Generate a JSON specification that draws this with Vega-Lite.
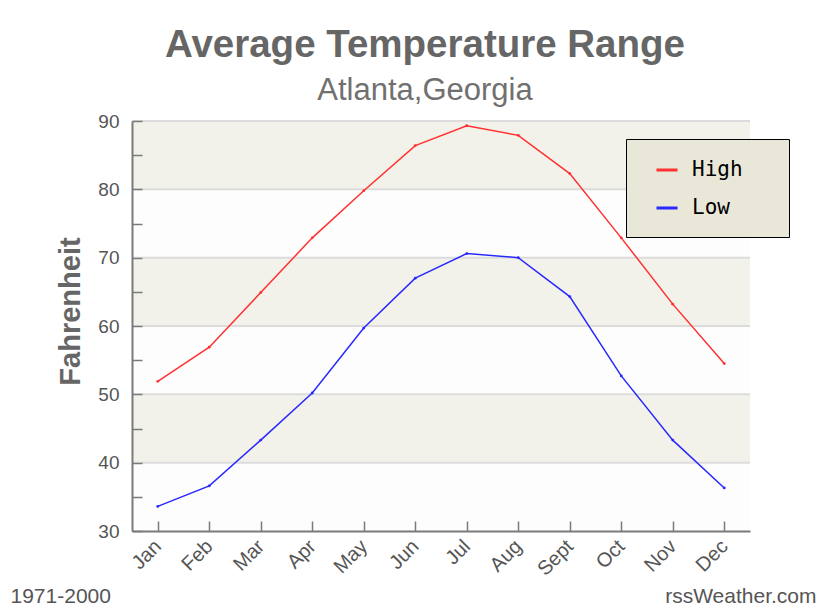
{
  "$schema": "https://vega.github.io/schema/vega-lite/v6.json",
  "autosize": "none",
  "width": 618,
  "height": 410,
  "padding": {"left": 132, "top": 121, "right": 80, "bottom": 79},
  "background": "white",
  "title": {
    "text": "Average Temperature Range",
    "subtitle": "Atlanta,Georgia",
    "anchor": "middle",
    "frame": "group",
    "dx": -16,
    "font": "Liberation Sans",
    "fontSize": 38.5,
    "fontWeight": "bold",
    "color": "#666666",
    "subtitleFont": "Liberation Sans",
    "subtitleFontSize": 31,
    "subtitleColor": "#707070",
    "subtitlePadding": 11,
    "offset": 5
  },
  "config": {
    "view": {"stroke": null, "fill": "#fdfdfd"},
    "axis": {
      "labelFont": "Liberation Sans",
      "labelFontSize": 19,
      "labelColor": "#555555",
      "domainColor": "#7a7a7a",
      "domainWidth": 2,
      "tickColor": "#7a7a7a",
      "tickWidth": 1.5,
      "grid": false
    }
  },
  "datasets": {
    "temps": [
      {"month": "Jan", "series": "High", "temp": 51.9},
      {"month": "Feb", "series": "High", "temp": 56.9},
      {"month": "Mar", "series": "High", "temp": 64.9},
      {"month": "Apr", "series": "High", "temp": 72.9},
      {"month": "May", "series": "High", "temp": 79.8},
      {"month": "Jun", "series": "High", "temp": 86.4},
      {"month": "Jul", "series": "High", "temp": 89.3},
      {"month": "Aug", "series": "High", "temp": 87.9},
      {"month": "Sept", "series": "High", "temp": 82.3},
      {"month": "Oct", "series": "High", "temp": 72.9},
      {"month": "Nov", "series": "High", "temp": 63.2},
      {"month": "Dec", "series": "High", "temp": 54.5},
      {"month": "Jan", "series": "Low", "temp": 33.6},
      {"month": "Feb", "series": "Low", "temp": 36.6},
      {"month": "Mar", "series": "Low", "temp": 43.3},
      {"month": "Apr", "series": "Low", "temp": 50.2},
      {"month": "May", "series": "Low", "temp": 59.7},
      {"month": "Jun", "series": "Low", "temp": 67.0},
      {"month": "Jul", "series": "Low", "temp": 70.6},
      {"month": "Aug", "series": "Low", "temp": 70.0},
      {"month": "Sept", "series": "Low", "temp": 64.3},
      {"month": "Oct", "series": "Low", "temp": 52.7},
      {"month": "Nov", "series": "Low", "temp": 43.3},
      {"month": "Dec", "series": "Low", "temp": 36.3}
    ],
    "bands": [
      {"lo": 80, "hi": 90},
      {"lo": 60, "hi": 70},
      {"lo": 40, "hi": 50}
    ],
    "grid": [
      {"v": 40}, {"v": 50}, {"v": 60}, {"v": 70}, {"v": 80}, {"v": 90}
    ]
  },
  "resolve": {"axis": {"y": "independent"}},
  "layer": [
    {
      "data": {"name": "bands"},
      "mark": {"type": "rect", "color": "#f3f2ea"},
      "encoding": {
        "y": {
          "field": "lo", "type": "quantitative",
          "scale": {"domain": [30, 90], "nice": false, "zero": false},
          "axis": {
            "orient": "right", "labels": false, "ticks": false, "domain": false,
            "title": "rssWeather.com", "titleAngle": 0, "titleX": 66, "titleY": 481,
            "titleAlign": "right", "titleBaseline": "alphabetic",
            "titleFont": "Liberation Sans", "titleFontSize": 21, "titleFontWeight": "normal",
            "titleColor": "#555555"
          }
        },
        "y2": {"field": "hi"}
      }
    },
    {
      "data": {"name": "grid"},
      "mark": {"type": "rule", "color": "#dcdcdc", "strokeWidth": 2},
      "encoding": {
        "y": {"field": "v", "type": "quantitative", "axis": null}
      }
    },
    {
      "data": {"name": "temps"},
      "mark": {"type": "line", "strokeWidth": 1.5, "point": {"filled": true, "size": 8}},
      "encoding": {
        "x": {
          "field": "month", "type": "ordinal", "sort": null,
          "scale": {"type": "point", "padding": 0.5},
          "axis": {
            "zindex": 1,
            "labelAngle": -45, "labelAlign": "right", "labelBaseline": "middle",
            "labelFontSize": 20,
            "tickSize": -10, "labelPadding": 22,
            "title": "1971-2000", "titleX": -122, "titleY": 71,
            "titleAlign": "left", "titleBaseline": "alphabetic",
            "titleFont": "Liberation Sans", "titleFontSize": 21, "titleFontWeight": "normal",
            "titleColor": "#555555"
          }
        },
        "y": {
          "field": "temp", "type": "quantitative",
          "axis": {
            "zindex": 1,
            "values": [30, 35, 40, 45, 50, 55, 60, 65, 70, 75, 80, 85, 90],
            "labelExpr": "datum.value % 10 == 0 ? datum.label : ''",
            "tickSize": -10, "labelPadding": 23,
            "title": "Fahrenheit", "titleX": -62, "titleY": 190,
            "titleAngle": -90, "titleAlign": "center", "titleBaseline": "middle",
            "titleFont": "Liberation Sans", "titleFontSize": 29, "titleFontWeight": "bold",
            "titleColor": "#666666"
          }
        },
        "color": {
          "field": "series", "type": "nominal",
          "scale": {"domain": ["High", "Low"], "range": ["#ff3030", "#2828ff"]},
          "legend": {
            "title": "\u00a0",
            "titleOrient": "right",
            "titlePadding": 27,
            "titleFontSize": 4,
            "orient": "none", "legendX": 494, "legendY": 18,
            "fillColor": "#e9e8d8", "strokeColor": "#000000",
            "padding": 19, "symbolOffset": 10,
            "symbolType": "stroke", "symbolSize": 441, "symbolStrokeWidth": 3,
            "labelFont": "DejaVu Sans Mono", "labelFontSize": 21, "labelColor": "#000000",
            "labelOffset": 13, "rowPadding": 16
          }
        }
      }
    }
  ]
}
